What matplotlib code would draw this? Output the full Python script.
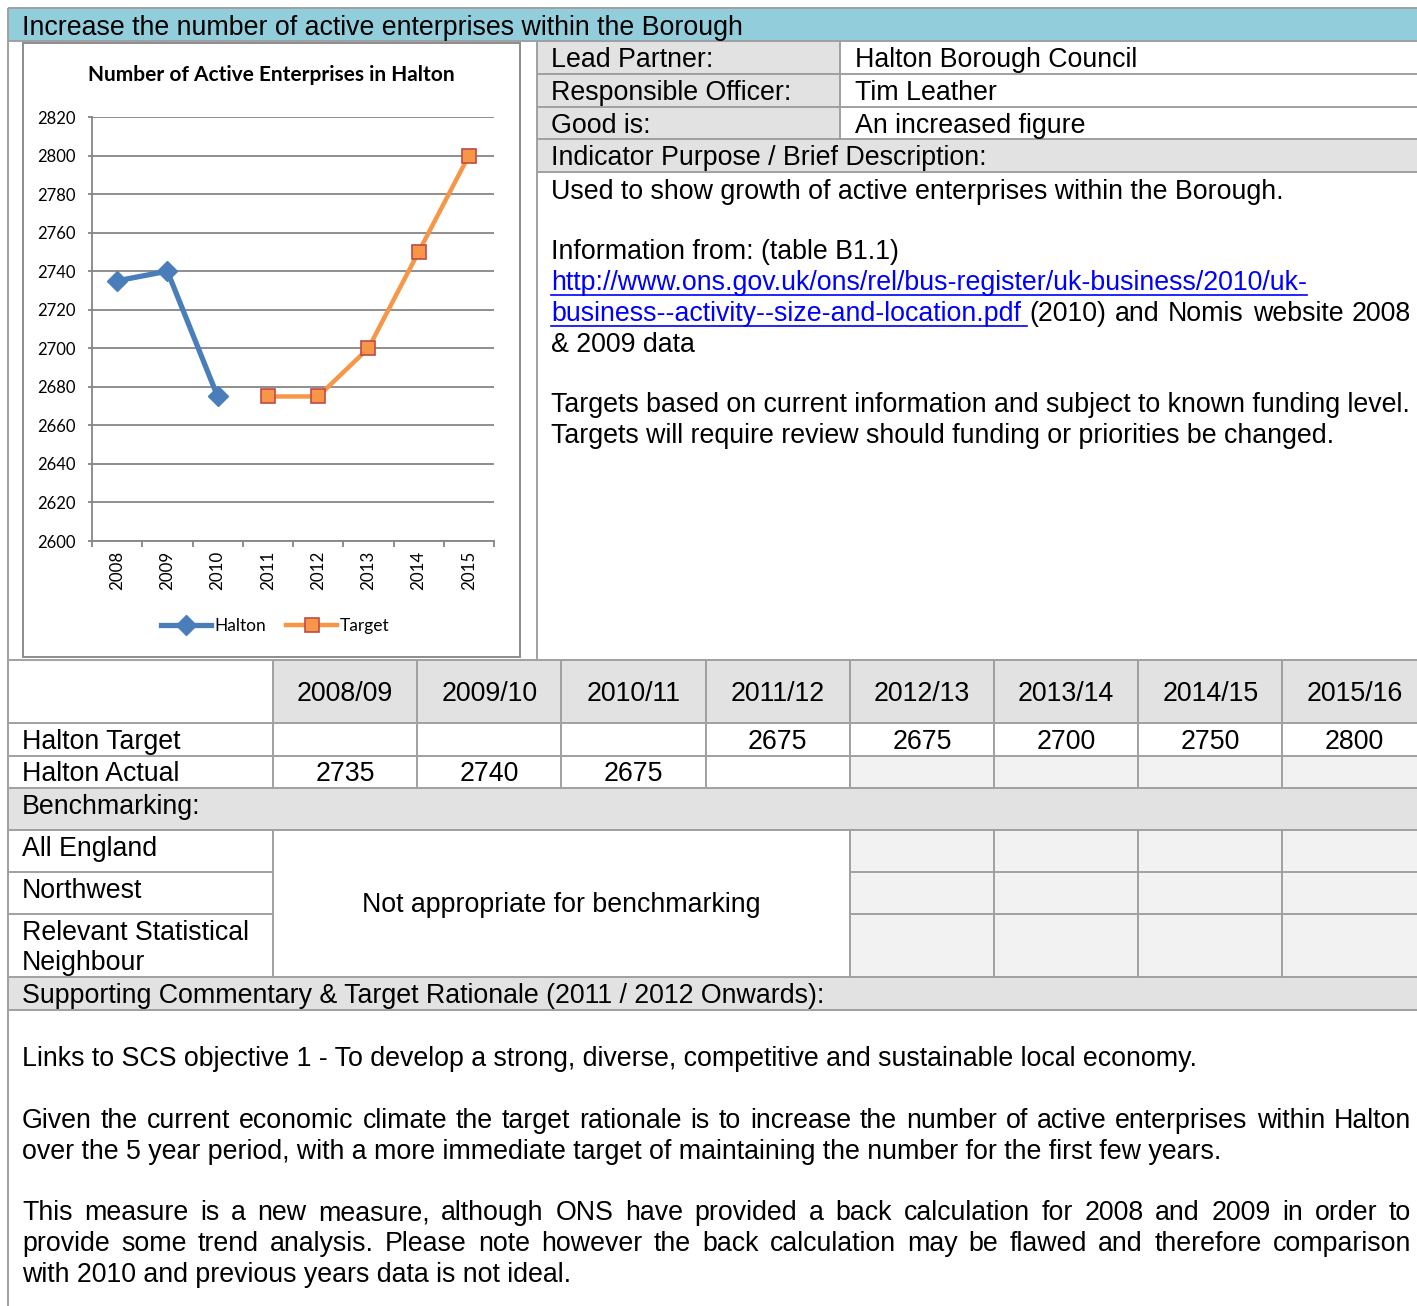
import matplotlib
matplotlib.use("Agg")
import matplotlib.pyplot as plt
import matplotlib.transforms as mtransforms
from matplotlib.patches import Rectangle
import numpy as np

# ---- data ----
years = ["2008", "2009", "2010", "2011", "2012", "2013", "2014", "2015"]
halton = [2735, 2740, 2675, None, None, None, None, None]
target = [None, None, None, 2675, 2675, 2700, 2750, 2800]

periods = ["2008/09", "2009/10", "2010/11", "2011/12",
           "2012/13", "2013/14", "2014/15", "2015/16"]
info_labels = ["Lead Partner:", "Responsible Officer:", "Good is:"]
info_values = ["Halton Borough Council", "Tim Leather", "An increased figure"]
bench_labels = ["All England", "Northwest", "Relevant Statistical\nNeighbour"]

halton = np.array(halton, dtype=float)
target = np.array(target, dtype=float)

# ---- page ----
W, H = 1417, 1306
fig = plt.figure(figsize=(W / 100, H / 100), dpi=100)
page = fig.add_axes([0, 0, 1, 1])
page.set_xlim(0, W)
page.set_ylim(H, 0)
page.axis("off")

LINE = "#A0A0A0"
GREY = "#E2E2E2"
LIGHT = "#F2F2F2"
BAR = "#92CDDC"
BODY = dict(family="Liberation Sans", fontsize=19.25, color="black", va="baseline")
R = 1430  # table runs past the right edge


def fill(x0, y0, x1, y1, fc):
    page.add_patch(Rectangle((x0, y0), x1 - x0, y1 - y0, facecolor=fc,
                             edgecolor="none", zorder=0))


def hline(y, x0=8, x1=R):
    page.plot([x0, x1], [y, y], color=LINE, lw=1.4, zorder=1, solid_capstyle="butt")


def vline(x, y0, y1):
    page.plot([x, x], [y0, y1], color=LINE, lw=1.4, zorder=1, solid_capstyle="butt")


def txt(x, y, s, **kw):
    opts = dict(BODY)
    opts.update(kw)
    return page.text(x, y, s, zorder=3, **opts)


rend = fig.canvas.get_renderer()


def justified(words, y, x0=22, x1=1411, colors=None):
    colors = colors or ["black"] * len(words)
    ts = [txt(0, y, w, color=c) for w, c in zip(words, colors)]
    widths = [t.get_window_extent(rend).width for t in ts]
    gap = (x1 - x0 - sum(widths)) / (len(ts) - 1)
    x = x0
    for t, w in zip(ts, widths):
        t.set_x(x)
        x += w + gap
    return ts


def underline(t, y, extra=0):
    bb = t.get_window_extent(rend)
    page.plot([bb.x0, bb.x1 + extra], [y + 5, y + 5], color="#0000FF", lw=1.2, zorder=3)


# fills
fill(8, 8, R, 41, BAR)
fill(537, 41, 840, 139, GREY)
fill(537, 139, R, 172, GREY)
fill(273, 660, R, 723, GREY)
fill(850, 756, R, 788, LIGHT)
fill(8, 788, R, 830, GREY)
fill(850, 830, R, 977, LIGHT)
fill(8, 977, R, 1010, GREY)

# grid lines
hline(8)
hline(41)
vline(8, 8, H)
vline(537, 41, 660)
vline(840, 41, 139)
for y in [74, 107, 139, 172]:
    hline(y, 537)
col_edges = 273 + 144.2 * np.arange(9)
for y in [660, 723, 756, 788, 830, 977, 1010]:
    hline(y)
for y in [872, 914]:
    hline(y, 8, 273)
    hline(y, col_edges[4], R)
for x in col_edges[:8]:
    vline(x, 660, 788)
for x in col_edges[[0, 4, 5, 6, 7]]:
    vline(x, 830, 977)

# chart frame
page.add_patch(Rectangle((23, 43), 497, 614, facecolor="white",
                         edgecolor="#8C8C8C", lw=1.4, zorder=1))

# texts: top part
txt(22, 35, "Increase the number of active enterprises within the Borough")
for i, (lab, val) in enumerate(zip(info_labels, info_values)):
    yb = 67 + 33 * i
    txt(551, yb, lab)
    txt(855, yb, val)
txt(551, 165, "Indicator Purpose / Brief Description:")
txt(551, 199, "Used to show growth of active enterprises within the Borough.")
txt(551, 259, "Information from: (table B1.1)")
link1 = txt(551, 290, "http://www.ons.gov.uk/ons/rel/bus-register/uk-business/2010/uk-",
            color="#0000FF")
underline(link1, 290)
row2 = justified(["business--activity--size-and-location.pdf", "(2010)", "and",
                  "Nomis", "website", "2008"], 321, x0=551, x1=1411,
                 colors=["#0000FF"] + ["black"] * 5)
underline(row2[0], 321, extra=6)
txt(551, 352, "& 2009 data")
txt(551, 412, "Targets based on current information and subject to known funding level.")
txt(551, 443, "Targets will require review should funding or priorities be changed.")

# lower table
centres = (col_edges[:-1] + col_edges[1:]) / 2
for cx, p in zip(centres, periods):
    txt(cx, 701, p, ha="center")
txt(22, 749, "Halton Target")
txt(22, 781, "Halton Actual")
for cx, v in zip(centres, target):
    if not np.isnan(v):
        txt(cx, 749, f"{v:.0f}", ha="center")
for cx, v in zip(centres, halton):
    if not np.isnan(v):
        txt(cx, 781, f"{v:.0f}", ha="center")
txt(22, 814, "Benchmarking:")
txt(22, 856, bench_labels[0])
txt(22, 898, bench_labels[1])
for k, line in enumerate(bench_labels[2].split("\n")):
    txt(22, 940 + 30 * k, line)
txt((col_edges[0] + col_edges[4]) / 2, 912, "Not appropriate for benchmarking", ha="center")
txt(22, 1003, "Supporting Commentary & Target Rationale (2011 / 2012 Onwards):")

txt(22, 1066, "Links to SCS objective 1 - To develop a strong, diverse, competitive "
              "and sustainable local economy.")
justified("Given the current economic climate the target rationale is to increase "
          "the number of active enterprises within Halton".split(), 1128)
txt(22, 1159, "over the 5 year period, with a more immediate target of maintaining "
              "the number for the first few years.")
justified("This measure is a new measure, although ONS have provided a back "
          "calculation for 2008 and 2009 in order to".split(), 1220)
justified("provide some trend analysis. Please note however the back calculation "
          "may be flawed and therefore comparison".split(), 1251)
txt(22, 1282, "with 2010 and previous years data is not ideal.")

# ---- chart ----
ax = fig.add_axes([92 / W, 1 - 541 / H, 402 / W, 424 / H])
ax.set_facecolor("none")
x = np.arange(len(years))
ax.plot(x, halton, color="#4A7EBB", lw=3.8, marker="D", ms=10.5,
        mfc="#4A7EBB", mec="#4A7EBB", label="Halton")
ax.plot(x, target, color="#F79646", lw=3.2, marker="s", ms=10,
        mfc="#F79646", mec="#BE4B48", mew=1.2, label="Target")
ax.set_xlim(-0.5, len(years) - 0.5)
ax.set_ylim(2600, 2820)
ax.set_yticks(np.arange(2600, 2821, 20))
ax.yaxis.grid(True, color="#868686", lw=1.3)
ax.set_axisbelow(True)
for s in ["top", "right"]:
    ax.spines[s].set_visible(False)
for s in ["left", "bottom"]:
    ax.spines[s].set_color("#868686")
    ax.spines[s].set_linewidth(1.3)
ax.set_xticks(x)
ax.set_xticklabels(years, rotation=90, family="Lato", fontsize=12.2)
shift = mtransforms.ScaledTranslation(3 / 100, 0, fig.dpi_scale_trans)
for lab in ax.get_xticklabels():
    lab.set_transform(lab.get_transform() + shift)
ax.set_xticks(np.arange(-0.5, len(years)), minor=True)
ax.tick_params(axis="x", which="major", length=0, pad=7)
ax.tick_params(axis="x", which="minor", length=4, color="#868686", width=1.3)
ax.tick_params(axis="y", length=3, color="#868686", width=1.3, pad=8.5)
for lab in ax.get_yticklabels():
    lab.set_family("Lato")
    lab.set_fontsize(12)

page.text(271, 75, "Number of Active Enterprises in Halton", family="Lato",
          fontweight="bold", fontsize=15, ha="center", va="center", zorder=3)
ax.legend(loc="center", bbox_to_anchor=(275 / W, 1 - 626 / H),
          bbox_transform=fig.transFigure, ncol=2, frameon=False,
          handlelength=2.9, handletextpad=0.15, columnspacing=1.2,
          prop=dict(family="Lato", size=12.5))

fig.savefig("out.png", dpi=100)
